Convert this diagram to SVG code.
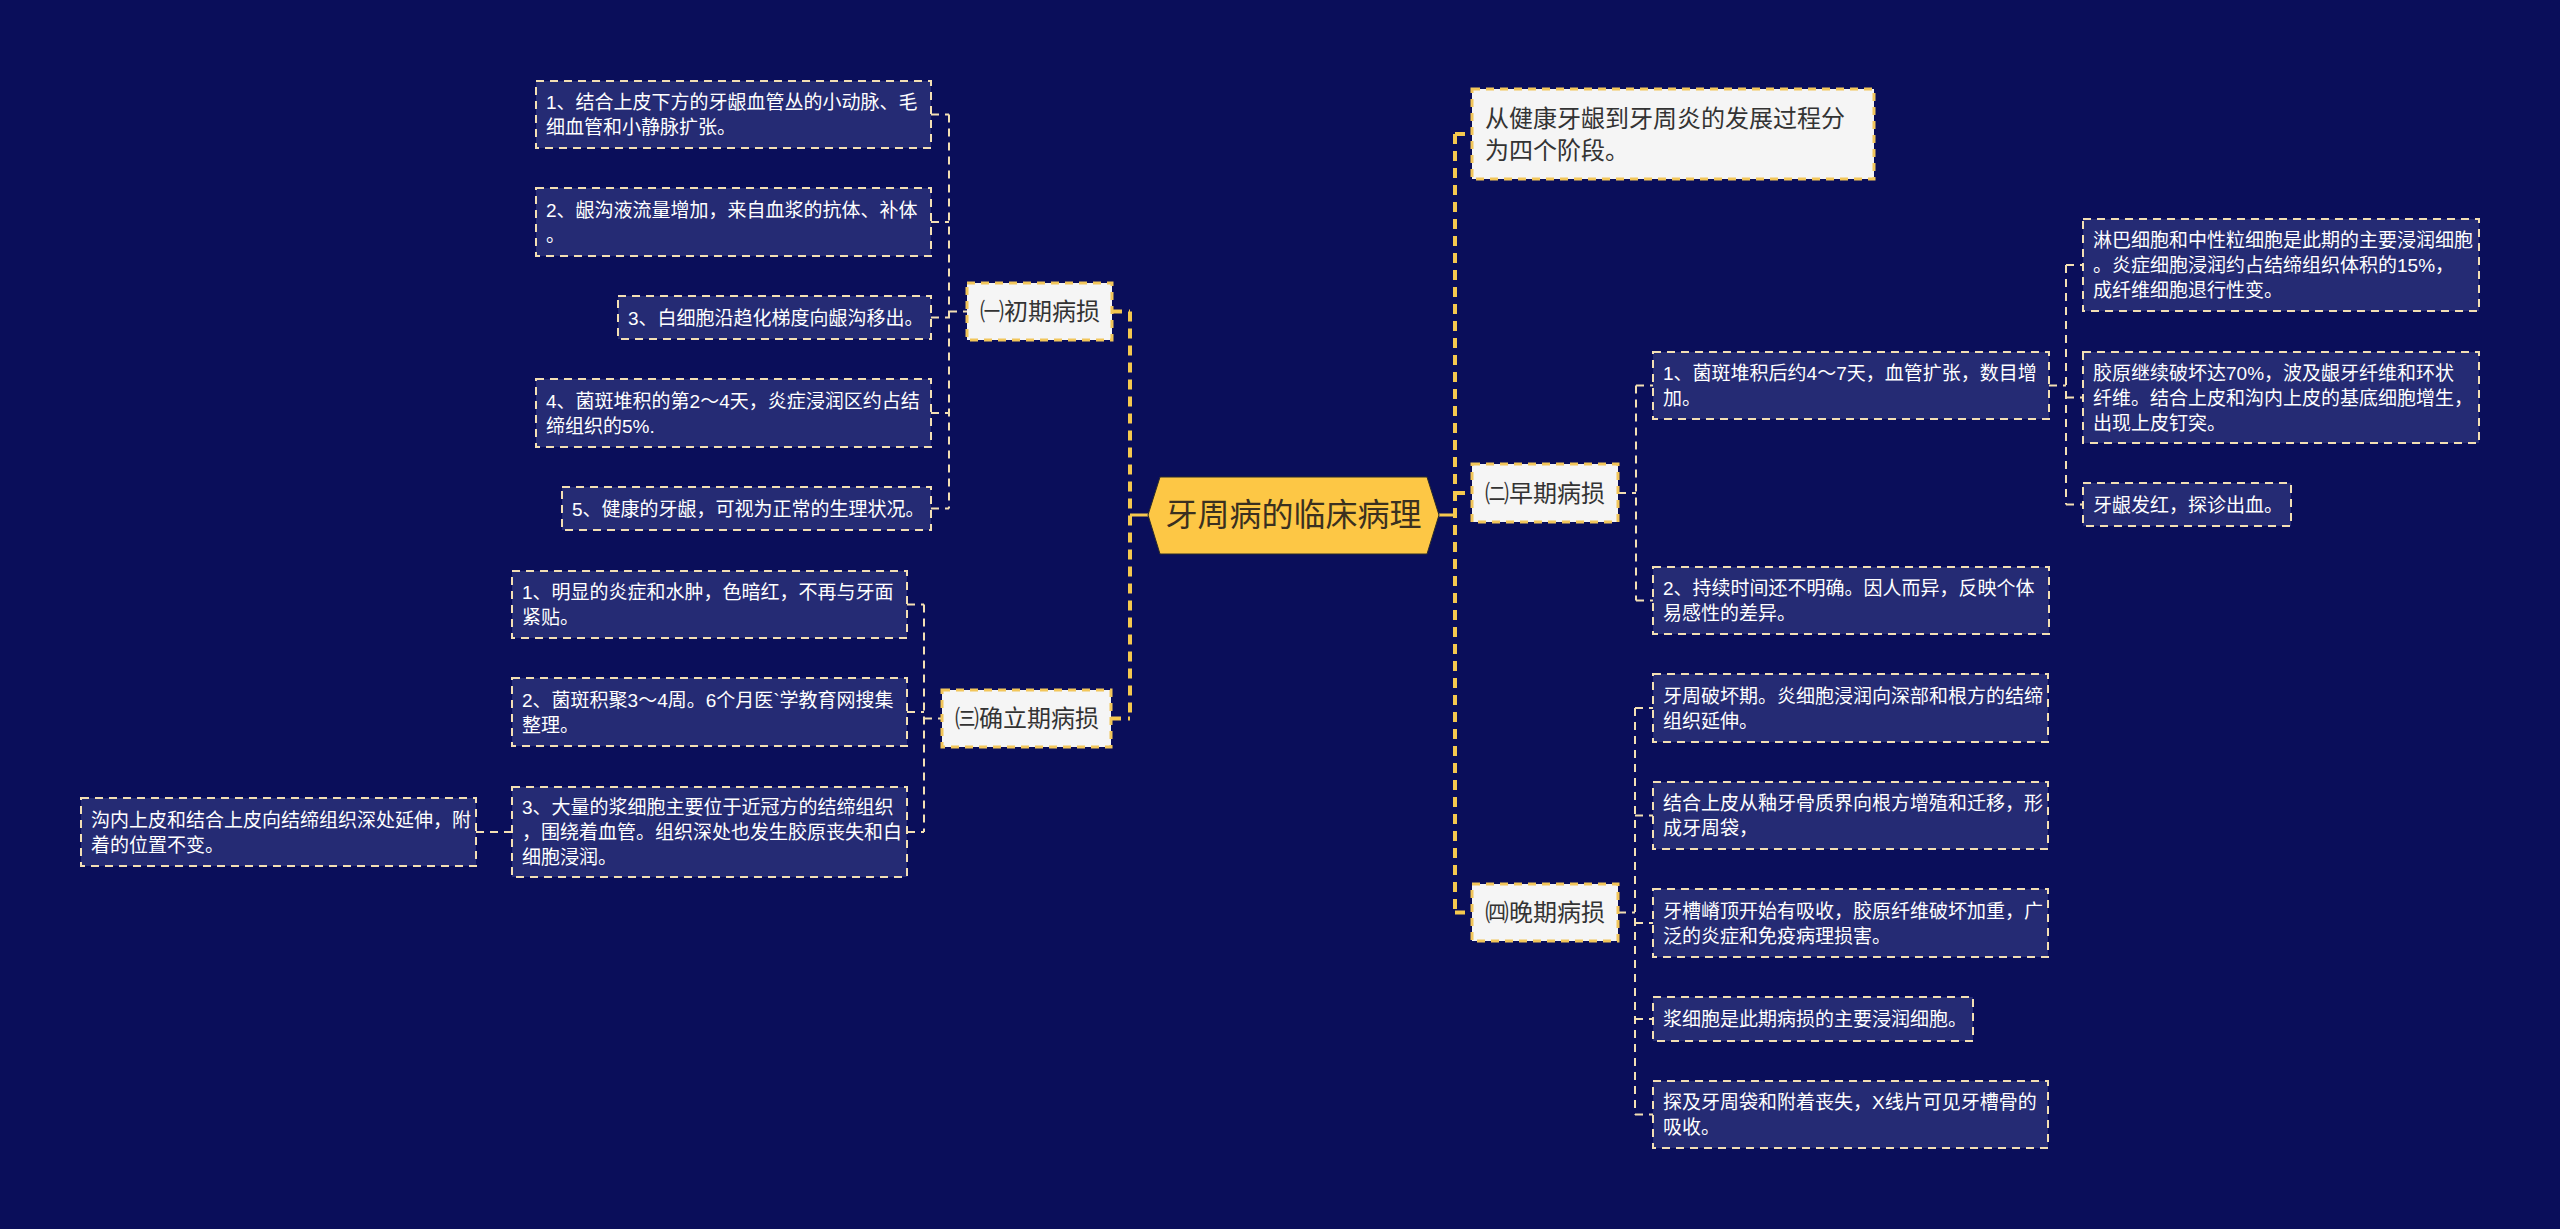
<svg xmlns="http://www.w3.org/2000/svg" width="2560" height="1229" viewBox="0 0 2560 1229">
<style>
.bg{fill:#0a0e5a}
.leaf{fill:#252b74;stroke:#f3dfb4;stroke-width:2;stroke-dasharray:8 6}
.l1{fill:#f5f5f5;stroke:#f2c65a;stroke-width:3;stroke-dasharray:8 6}
.lt{font-family:"Liberation Sans","Noto Sans CJK SC",sans-serif;font-size:19px;fill:#ffffff}
.t1{font-family:"Liberation Sans","Noto Sans CJK SC",sans-serif;font-size:24px;fill:#333333}
.tc{font-family:"Liberation Sans","Noto Sans CJK SC",sans-serif;font-size:32px;fill:#3a3020}
.main{fill:none;stroke:#f5c84e;stroke-width:4;stroke-dasharray:10 7}
.sub{fill:none;stroke:#f3dfb4;stroke-width:2;stroke-dasharray:8 6}
.solid{fill:none;stroke:#f5c84e;stroke-width:3}
</style>
<rect class="bg" x="0" y="0" width="2560" height="1229"/>

<g id="connectors">
  <path class="solid" d="M1130 515 H1148 M1439 515 H1455"/>
  <path class="main" d="M1130 311.5 V718.5 M1112 311.5 H1130 M1111 718.5 H1130"/>
  <path class="main" d="M1455 134 V912.5 M1455 134 H1472 M1455 493 H1472 M1455 912.5 H1472"/>
  <path class="sub" d="M949 114.5 V508.5 M931 114.5 H949 M931 222 H949 M931 317.5 H949 M931 413 H949 M931 508.5 H949 M949 311.5 H967"/>
  <path class="sub" d="M924 604.5 V832 M907 604.5 H924 M907 712 H924 M907 832 H924 M924 718.5 H942 M476 832 H512"/>
  <path class="sub" d="M1636 385.5 V600.5 M1618 493 H1636 M1636 385.5 H1653 M1636 600.5 H1653"/>
  <path class="sub" d="M2066 265 V504.5 M2049 385.5 H2066 M2066 265 H2083 M2066 397.5 H2083 M2066 504.5 H2083"/>
  <path class="sub" d="M1635 708 V1114.5 M1618 912.5 H1635 M1635 708 H1653 M1635 815.5 H1653 M1635 923 H1653 M1635 1019 H1653 M1635 1114.5 H1653"/>
</g>

<g id="root">
  <polygon points="1148,515 1160,477 1427,477 1439,515 1427,554 1160,554" fill="#fdc745" stroke="#2a2a2a" stroke-width="1"/>
  <text class="tc" x="1293.5" y="526" text-anchor="middle">牙周病的临床病理</text>
</g>

<g id="intro">
  <rect class="l1" x="1472" y="89" width="402" height="90"/>
  <text class="t1" x="1485" y="126.5">从健康牙龈到牙周炎的发展过程分</text>
  <text class="t1" x="1485" y="158.5">为四个阶段。</text>
</g>

<g id="stage1">
  <rect class="l1" x="967" y="283" width="145" height="57"/>
  <text class="t1" x="980" y="320">㈠初期病损</text>
</g>
<g id="s1-1">
  <rect class="leaf" x="536" y="81" width="395" height="67"/>
  <text class="lt" x="546" y="109">1、结合上皮下方的牙龈血管丛的小动脉、毛</text>
  <text class="lt" x="546" y="134">细血管和小静脉扩张。</text>
</g>
<g id="s1-2">
  <rect class="leaf" x="536" y="188" width="395" height="68"/>
  <text class="lt" x="546" y="216.5">2、龈沟液流量增加，来自血浆的抗体、补体</text>
  <text class="lt" x="546" y="241.5">。</text>
</g>
<g id="s1-3">
  <rect class="leaf" x="618" y="296" width="313" height="43"/>
  <text class="lt" x="628" y="324.5">3、白细胞沿趋化梯度向龈沟移出。</text>
</g>
<g id="s1-4">
  <rect class="leaf" x="536" y="379" width="395" height="68"/>
  <text class="lt" x="546" y="407.5">4、菌斑堆积的第2～4天，炎症浸润区约占结</text>
  <text class="lt" x="546" y="432.5">缔组织的5%.</text>
</g>
<g id="s1-5">
  <rect class="leaf" x="562" y="487" width="369" height="43"/>
  <text class="lt" x="572" y="515.5">5、健康的牙龈，可视为正常的生理状况。</text>
</g>

<g id="stage3">
  <rect class="l1" x="942" y="690" width="169" height="57"/>
  <text class="t1" x="955" y="727">㈢确立期病损</text>
</g>
<g id="s3-1">
  <rect class="leaf" x="512" y="571" width="395" height="67"/>
  <text class="lt" x="522" y="599">1、明显的炎症和水肿，色暗红，不再与牙面</text>
  <text class="lt" x="522" y="624">紧贴。</text>
</g>
<g id="s3-2">
  <rect class="leaf" x="512" y="678" width="395" height="68"/>
  <text class="lt" x="522" y="706.5">2、菌斑积聚3～4周。6个月医`学教育网搜集</text>
  <text class="lt" x="522" y="731.5">整理。</text>
</g>
<g id="s3-3">
  <rect class="leaf" x="512" y="787" width="395" height="90"/>
  <text class="lt" x="522" y="814">3、大量的浆细胞主要位于近冠方的结缔组织</text>
  <text class="lt" x="522" y="839">，围绕着血管。组织深处也发生胶原丧失和白</text>
  <text class="lt" x="522" y="864">细胞浸润。</text>
</g>
<g id="s3-3-1">
  <rect class="leaf" x="81" y="798" width="395" height="68"/>
  <text class="lt" x="91" y="826.5">沟内上皮和结合上皮向结缔组织深处延伸，附</text>
  <text class="lt" x="91" y="851.5">着的位置不变。</text>
</g>

<g id="stage2">
  <rect class="l1" x="1472" y="464" width="146" height="58"/>
  <text class="t1" x="1485" y="501.5">㈡早期病损</text>
</g>
<g id="s2-1">
  <rect class="leaf" x="1653" y="352" width="396" height="67"/>
  <text class="lt" x="1663" y="380">1、菌斑堆积后约4～7天，血管扩张，数目增</text>
  <text class="lt" x="1663" y="405">加。</text>
</g>
<g id="s2-2">
  <rect class="leaf" x="1653" y="567" width="396" height="67"/>
  <text class="lt" x="1663" y="595">2、持续时间还不明确。因人而异，反映个体</text>
  <text class="lt" x="1663" y="620">易感性的差异。</text>
</g>
<g id="s2-1-1">
  <rect class="leaf" x="2083" y="219" width="396" height="92"/>
  <text class="lt" x="2093" y="247">淋巴细胞和中性粒细胞是此期的主要浸润细胞</text>
  <text class="lt" x="2093" y="272">。炎症细胞浸润约占结缔组织体积的15%，</text>
  <text class="lt" x="2093" y="297">成纤维细胞退行性变。</text>
</g>
<g id="s2-1-2">
  <rect class="leaf" x="2083" y="352" width="396" height="91"/>
  <text class="lt" x="2093" y="379.5">胶原继续破坏达70%，波及龈牙纤维和环状</text>
  <text class="lt" x="2093" y="404.5">纤维。结合上皮和沟内上皮的基底细胞增生，</text>
  <text class="lt" x="2093" y="429.5">出现上皮钉突。</text>
</g>
<g id="s2-1-3">
  <rect class="leaf" x="2083" y="483" width="208" height="43"/>
  <text class="lt" x="2093" y="511.5">牙龈发红，探诊出血。</text>
</g>

<g id="stage4">
  <rect class="l1" x="1472" y="884" width="146" height="57"/>
  <text class="t1" x="1485" y="921">㈣晚期病损</text>
</g>
<g id="s4-1">
  <rect class="leaf" x="1653" y="674" width="395" height="68"/>
  <text class="lt" x="1663" y="702.5">牙周破坏期。炎细胞浸润向深部和根方的结缔</text>
  <text class="lt" x="1663" y="727.5">组织延伸。</text>
</g>
<g id="s4-2">
  <rect class="leaf" x="1653" y="782" width="395" height="67"/>
  <text class="lt" x="1663" y="810">结合上皮从釉牙骨质界向根方增殖和迁移，形</text>
  <text class="lt" x="1663" y="835">成牙周袋，</text>
</g>
<g id="s4-3">
  <rect class="leaf" x="1653" y="889" width="395" height="68"/>
  <text class="lt" x="1663" y="917.5">牙槽嵴顶开始有吸收，胶原纤维破坏加重，广</text>
  <text class="lt" x="1663" y="942.5">泛的炎症和免疫病理损害。</text>
</g>
<g id="s4-4">
  <rect class="leaf" x="1653" y="997" width="320" height="44"/>
  <text class="lt" x="1663" y="1026">浆细胞是此期病损的主要浸润细胞。</text>
</g>
<g id="s4-5">
  <rect class="leaf" x="1653" y="1081" width="395" height="67"/>
  <text class="lt" x="1663" y="1109">探及牙周袋和附着丧失，X线片可见牙槽骨的</text>
  <text class="lt" x="1663" y="1134">吸收。</text>
</g>
</svg>
